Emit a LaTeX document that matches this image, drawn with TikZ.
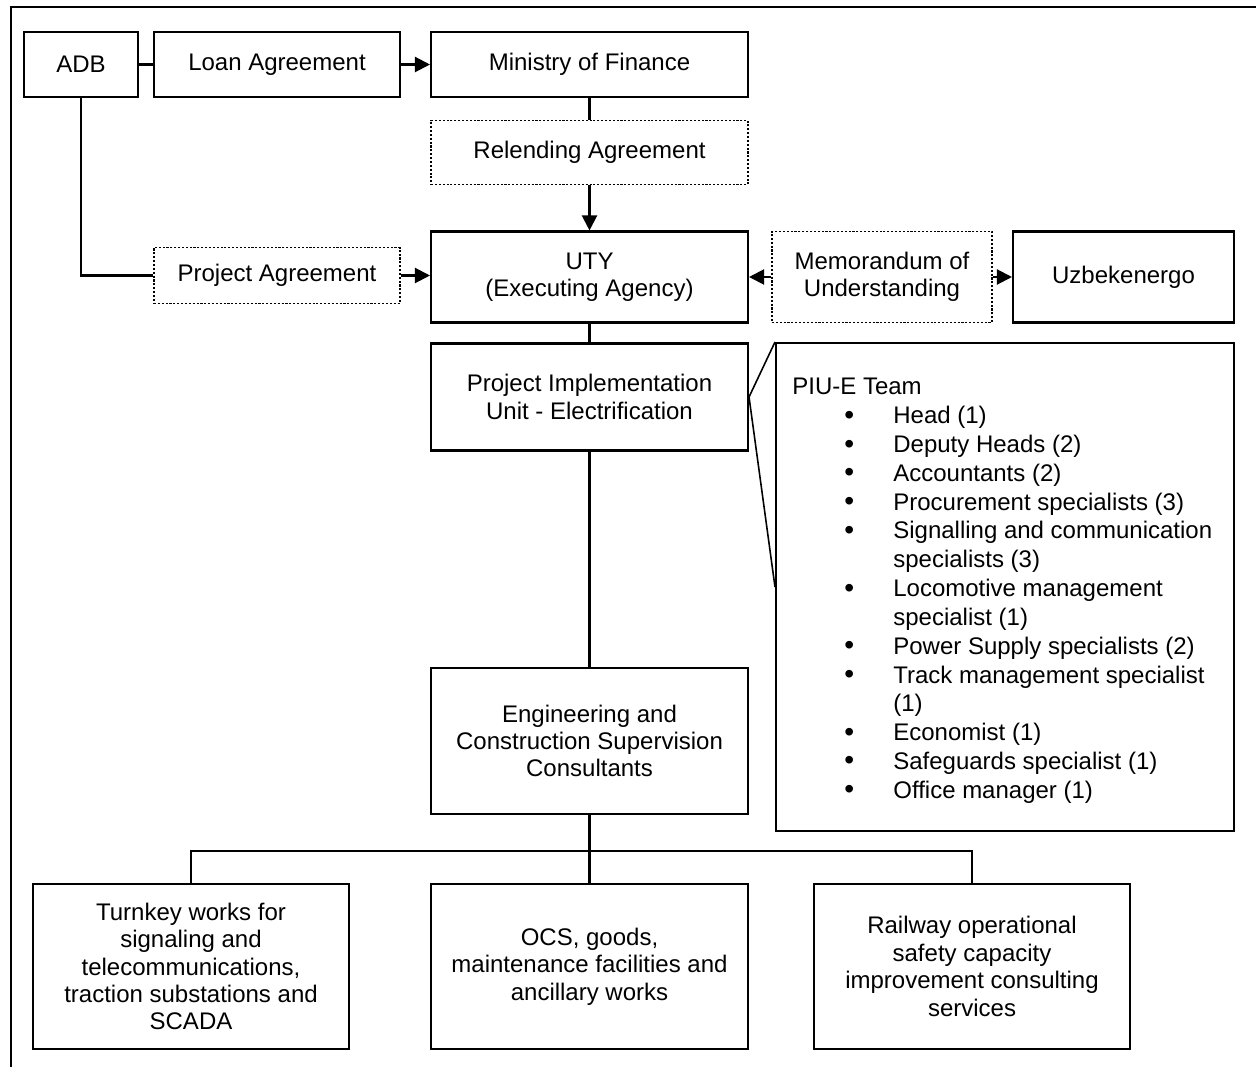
\documentclass[tikz,border=0pt]{standalone}
\usepackage{fontspec}
\setmainfont{Liberation Sans}
\usetikzlibrary{arrows.meta}
\newcommand{\teamitem}[1]{\makebox[2.02cm][l]{\hspace*{1.04cm}\raisebox{-0.3pt}{\fontsize{16}{16}\selectfont\textbullet}}#1}
\newcommand{\teamcont}[1]{\hspace*{2.02cm}#1}
\tikzset{
  box/.style={draw, line width=1.2pt, align=center, inner sep=2pt,
    font=\fontsize{13.66}{15.6}\selectfont},
  dotbox/.style={box, densely dotted, line width=1pt},
  link/.style={line width=1.2pt},
  arr/.style={line width=1.2pt, -{Triangle[length=0.3cm,width=0.3cm]}}
}
\begin{document}
\begin{tikzpicture}[x=0.02cm, y=-0.02cm]
\useasboundingbox (0,0) rectangle (1256,1067);
\draw[line width=1.6pt] (1256,7) -- (11,7) -- (11,1067);
% top row
\node[box, minimum width=2.28cm, minimum height=1.3cm] (adb) at (81,64.5) {ADB};
\node[box, minimum width=4.92cm, minimum height=1.3cm] (loan) at (277,64.5) {Loan Agreement};
\node[box, minimum width=6.34cm, minimum height=1.3cm] (mof) at (589.5,64.5) {Ministry of Finance};
\node[dotbox, minimum width=6.34cm, minimum height=1.28cm] (relend) at (589.5,152.5) {Relending Agreement};
% executing agency row
\node[box, minimum width=6.34cm, minimum height=1.82cm] (uty) at (589.5,277) {UTY\\(Executing Agency)};
\node[dotbox, minimum width=4.92cm, minimum height=1.12cm] (projagr) at (277,275.5) {Project Agreement};
\node[dotbox, minimum width=4.4cm, minimum height=1.82cm] (mou) at (882,277) {Memorandum of\\Understanding};
\node[box, minimum width=4.42cm, minimum height=1.82cm] (uzb) at (1123.5,277) {Uzbekenergo};
% PIU and team
\node[box, minimum width=6.34cm, minimum height=2.14cm] (piu) at (589.5,397) {Project Implementation\\Unit - Electrification};
\node[box, minimum width=9.16cm, minimum height=9.76cm] (team) at (1005,587) {};
\node[anchor=north west, align=left, inner sep=0pt,
  font=\fontsize{13.66}{16.4}\selectfont] (teamtext) at (792,378) {%
PIU-E Team\\
\teamitem{Head (1)}\\
\teamitem{Deputy Heads (2)}\\
\teamitem{Accountants (2)}\\
\teamitem{Procurement specialists (3)}\\
\teamitem{Signalling and communication}\\
\teamcont{specialists (3)}\\
\teamitem{Locomotive management}\\
\teamcont{specialist (1)}\\
\teamitem{Power Supply specialists (2)}\\
\teamitem{Track management specialist}\\
\teamcont{(1)}\\
\teamitem{Economist (1)}\\
\teamitem{Safeguards specialist (1)}\\
\teamitem{Office manager (1)}};
% consultants and contracts
\node[box, minimum width=6.34cm, minimum height=2.92cm] (eng) at (589.5,741) {Engineering and\\Construction Supervision\\Consultants};
\node[box, minimum width=6.32cm, minimum height=3.3cm] (turnkey) at (191,966.5) {Turnkey works for\\signaling and\\telecommunications,\\traction substations and\\SCADA};
\node[box, minimum width=6.34cm, minimum height=3.3cm] (ocs) at (589.5,966.5) {OCS, goods,\\maintenance facilities and\\ancillary works};
\node[box, minimum width=6.32cm, minimum height=3.3cm] (railway) at (972,966.5) {Railway operational\\safety capacity\\improvement consulting\\services};
\coordinate (bus) at (589.5,851);
% connectors
\draw[link] (adb) -- (loan);
\draw[arr] (loan) -- (mof);
\draw[link] (mof) -- (relend);
\draw[arr] (relend) -- (uty);
\draw[link] (adb.south) |- (projagr.west);
\draw[arr] (projagr.east) -- (projagr.east -| uty.west);
\draw[arr] (mou) -- (uty);
\draw[arr] (mou) -- (uzb);
\draw[link] (uty) -- (piu);
\draw[link] (piu) -- (eng);
\draw[line width=0.9pt] (team.north west) -- (piu.east) -- (team.west);
\draw[link] (eng) -- (bus);
\draw[link] (turnkey.north) |- (bus) -| (railway.north);
\draw[link] (bus) -- (ocs);
\end{tikzpicture}
\end{document}
